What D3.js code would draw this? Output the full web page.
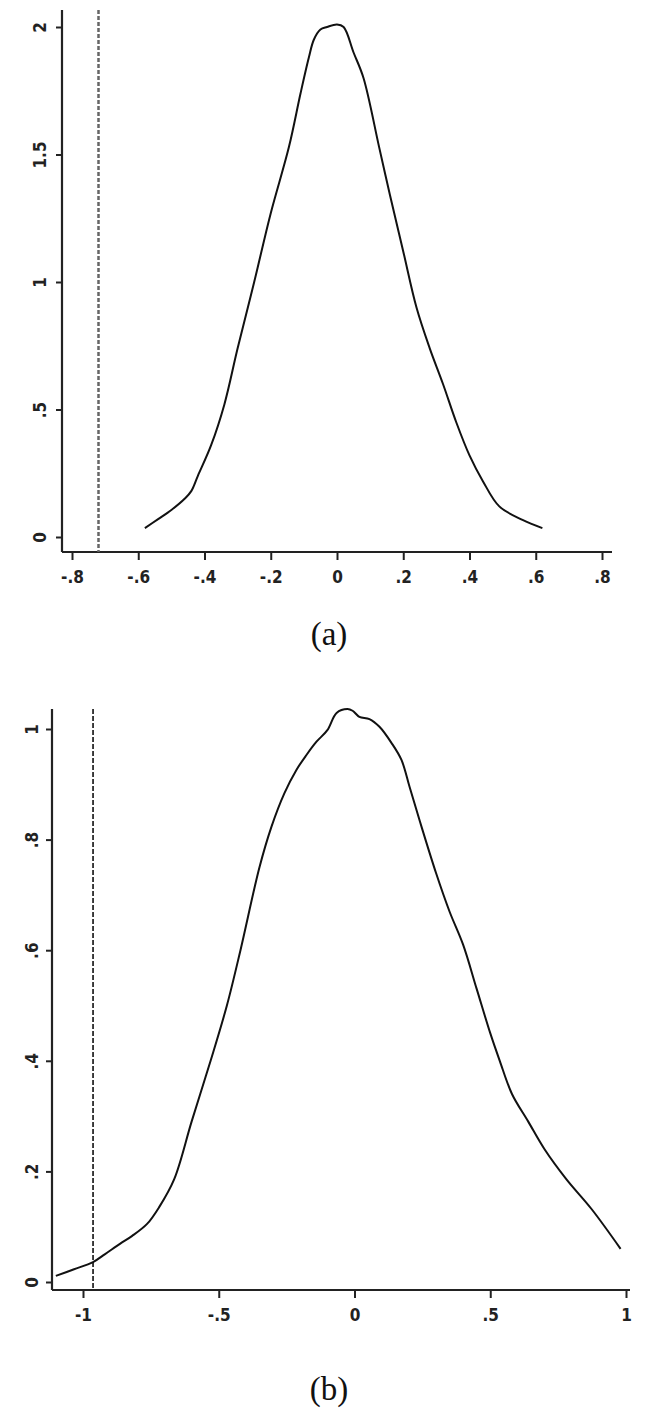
<!DOCTYPE html>
<html>
<head>
<meta charset="utf-8">
<script src="https://d3js.org/d3.v7.min.js"></script>
<style>
  body { margin: 0; background: #fff; }
  .tick text { font-family: "DejaVu Sans Condensed", "Liberation Sans Narrow", "Liberation Sans", sans-serif; font-weight: bold; font-size: 17px; fill: #222; }
  .cap { font-family: "Liberation Serif", "DejaVu Serif", serif; font-size: 33px; fill: #111; }
</style>
</head>
<body>
<script>
// panel (a)
let aX = [-0.58, -0.54, -0.50, -0.46, -0.44, -0.42, -0.38, -0.34, -0.30, -0.25, -0.20, -0.145, -0.11, -0.085, -0.07, -0.05, -0.03, 0.00, 0.02, 0.05, 0.08, 0.127, 0.16, 0.20, 0.24, 0.28, 0.32, 0.36, 0.40, 0.44, 0.49, 0.56, 0.62];
let aY = [0.035, 0.07, 0.106, 0.15, 0.18, 0.24, 0.36, 0.52, 0.74, 1.0, 1.27, 1.53, 1.74, 1.88, 1.95, 1.99, 2.0, 2.01, 2.0, 1.9, 1.8, 1.53, 1.34, 1.12, 0.9, 0.74, 0.6, 0.45, 0.32, 0.22, 0.12, 0.067, 0.035];
let aXTicks = [-0.8, -0.6, -0.4, -0.2, 0, 0.2, 0.4, 0.6, 0.8];
let aYTicks = [0, 0.5, 1, 1.5, 2];
let aCut = -0.72;

// panel (b)
let bX = [-1.10, -1.033, -0.963, -0.92, -0.864, -0.82, -0.764, -0.72, -0.664, -0.60, -0.53, -0.47, -0.42, -0.35, -0.306, -0.258, -0.214, -0.177, -0.14, -0.10, -0.066, -0.026, -0.007, 0.018, 0.055, 0.092, 0.136, 0.173, 0.203, 0.247, 0.30, 0.35, 0.40, 0.45, 0.50, 0.535, 0.58, 0.64, 0.70, 0.78, 0.873, 0.98];
let bY = [0.011, 0.023, 0.036, 0.05, 0.069, 0.083, 0.105, 0.135, 0.186, 0.29, 0.40, 0.50, 0.60, 0.75, 0.823, 0.884, 0.926, 0.953, 0.977, 0.998, 1.029, 1.036, 1.033, 1.022, 1.018, 1.004, 0.975, 0.944, 0.895, 0.823, 0.74, 0.67, 0.61, 0.53, 0.45, 0.40, 0.34, 0.29, 0.24, 0.186, 0.132, 0.06];
let bXTicks = [-1, -0.5, 0, 0.5, 1];
let bYTicks = [0, 0.2, 0.4, 0.6, 0.8, 1];
let bCut = -0.963;

function fmt(v) {
    if (v === 0) return "0";
    let s = d3.format("")(v);
    return s.replace("0.", ".").replace("−", "-");
}

let svg = d3.select("body").append("svg")
    .attr("width", 649)
    .attr("height", 1427);

function panel(o) {
    let x = d3.scaleLinear().domain(o.xDom).range(o.xRange);
    let y = d3.scaleLinear().domain([0, o.yTop]).range([o.y0, o.y1]);
    let g = svg.append("g");

    // y axis
    let ya = g.append("g")
        .attr("transform", `translate(${o.left},0)`)
        .call(d3.axisLeft(y).tickValues(o.yTicks).tickFormat(fmt).tickSize(6).tickSizeOuter(0));
    ya.select(".domain").remove();
    ya.selectAll(".tick line").attr("stroke", "#222").attr("stroke-width", 2);
    ya.selectAll(".tick text")
        .attr("transform", "rotate(-90)")
        .attr("x", 0).attr("y", -o.ylab)
        .attr("dy", "0.35em")
        .attr("text-anchor", "middle");
    g.append("line")
        .attr("x1", o.left).attr("x2", o.left)
        .attr("y1", o.axTop).attr("y2", o.axisY)
        .attr("stroke", "#222").attr("stroke-width", 2.2);

    // x axis
    let xa = g.append("g")
        .attr("transform", `translate(0,${o.axisY})`)
        .call(d3.axisBottom(x).tickValues(o.xTicks).tickFormat(fmt).tickSize(8).tickSizeOuter(0));
    xa.select(".domain").remove();
    xa.selectAll(".tick line").attr("stroke", "#222").attr("stroke-width", 2);
    xa.selectAll(".tick text").attr("y", 19);
    g.append("line")
        .attr("x1", o.left).attr("x2", o.right)
        .attr("y1", o.axisY).attr("y2", o.axisY)
        .attr("stroke", "#222").attr("stroke-width", 2.2);

    // cutoff
    g.append("line")
        .attr("x1", x(o.cut)).attr("x2", x(o.cut))
        .attr("y1", o.axTop).attr("y2", o.axisY)
        .attr("stroke", o.cutColor).attr("stroke-width", o.cutW)
        .attr("stroke-dasharray", o.dash);

    // density
    let pts = o.xs.map((v, i) => [v, o.ys[i]]);
    g.append("path")
        .datum(pts)
        .attr("fill", "none")
        .attr("stroke", "#111")
        .attr("stroke-width", 2)
        .attr("d", d3.line().x(d => x(d[0])).y(d => y(d[1])).curve(d3.curveCatmullRom));

    svg.append("text").attr("class", "cap")
        .attr("x", 329).attr("y", o.capY)
        .attr("text-anchor", "middle")
        .text(o.cap);
}

panel({
    xs: aX, ys: aY, xTicks: aXTicks, yTicks: aYTicks, cut: aCut,
    xDom: [-0.8, 0.8], xRange: [72, 602], left: 62, right: 612, yTop: 2,
    y0: 537, y1: 27, axTop: 10, axisY: 552, ylab: 22,
    cutColor: "#666", cutW: 2.5, dash: "4,2",
    cap: "(a)", capY: 645
});
panel({
    xs: bX, ys: bY, xTicks: bXTicks, yTicks: bYTicks, cut: bCut,
    xDom: [-1, 1], xRange: [83, 626], left: 52, right: 630, yTop: 1,
    y0: 1282, y1: 729, axTop: 709, axisY: 1290, ylab: 20,
    cutColor: "#111", cutW: 1.6, dash: "5,2",
    cap: "(b)", capY: 1400
});
</script>
</body>
</html>
